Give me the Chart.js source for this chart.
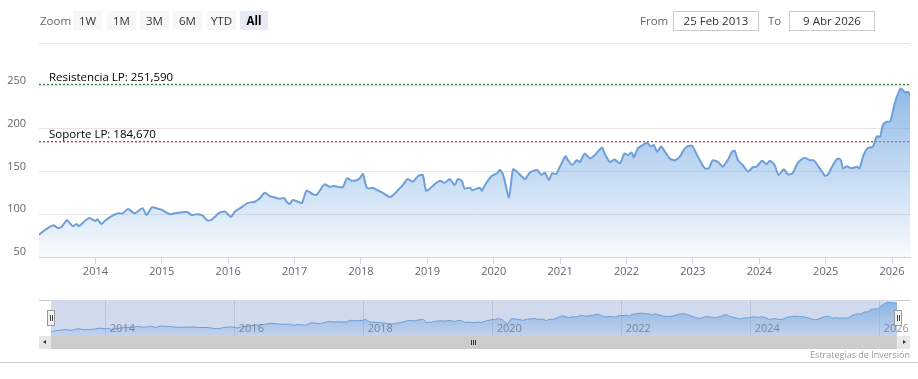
<!DOCTYPE html>
<html>
<head>
<meta charset="utf-8">
<script src="https://cdn.jsdelivr.net/npm/chart.js@4/dist/chart.umd.min.js"></script>
<style>
  html, body { margin:0; padding:0; background:#fff; }
  body { width:918px; height:379px; position:relative; overflow:hidden; font-family:"Open Sans", sans-serif; }
  canvas { position:absolute; left:0; }
  #main { top:0; }
  #nav { top:290px; }
  .txt { position:absolute; font-size:11.5px; color:#666; line-height:19px; top:11px; }
  .btn { position:absolute; top:11px; height:19px; width:29px; background:#f7f7f7; color:#333;
         font-size:11.5px; line-height:19px; text-align:center; }
  .btn.on { background:#e6ebf5; color:#000; font-weight:bold; }
  .box { position:absolute; top:11px; height:18px; border:1px solid #ccc; color:#333;
         font-size:11.5px; line-height:18px; text-align:center; }
  .hl { position:absolute; height:1px; background:#ccc; }
  .handle { position:absolute; width:6px; height:14px; top:310px; background:#f2f2f2; border:1px solid #999; }
  .handle i { position:absolute; top:4px; width:1px; height:6px; background:#444; }
  #sb { position:absolute; left:39px; top:336px; width:871px; height:13px; background:#f2f2f2; }
  #sb .thumb { position:absolute; left:12px; right:13px; top:0; height:13px; background:#ccc; }
  #sb .b { position:absolute; top:0; width:12px; height:13px; background:#e6e6e6; }
  .grip { position:absolute; top:4px; width:1px; height:5px; background:#333; }
  #credits { position:absolute; right:8px; top:348px; font-size:9px; color:#999; }
</style>
</head>
<body>
<canvas id="main" width="918" height="290"></canvas>
<canvas id="nav" width="918" height="50"></canvas>

<div class="txt" style="left:40px">Zoom</div>
<div class="btn" style="left:73px">1W</div>
<div class="btn" style="left:107px">1M</div>
<div class="btn" style="left:140px">3M</div>
<div class="btn" style="left:173px">6M</div>
<div class="btn" style="left:207px">YTD</div>
<div class="btn on" style="left:240px;width:28px">All</div>
<div class="txt" style="left:640px">From</div>
<div class="box" style="left:673px;width:84px">25 Feb 2013</div>
<div class="txt" style="left:768px">To</div>
<div class="box" style="left:789px;width:84px">9 Abr 2026</div>

<div class="hl" style="left:39px;width:12px;top:300px"></div>
<div class="hl" style="left:897px;width:13px;top:300px"></div>
<div class="handle" style="left:47px"><i style="left:2px"></i><i style="left:4px"></i></div>
<div class="handle" style="left:894px"><i style="left:2px"></i><i style="left:4px"></i></div>

<div id="sb">
  <div class="thumb"></div>
  <div class="b" style="left:0"><div style="position:absolute;left:4px;top:4px;width:0;height:0;border-top:2.5px solid transparent;border-bottom:2.5px solid transparent;border-right:3px solid #333"></div></div>
  <div class="b" style="right:0"><div style="position:absolute;left:5px;top:4px;width:0;height:0;border-top:2.5px solid transparent;border-bottom:2.5px solid transparent;border-left:3px solid #333"></div></div>
  <div class="grip" style="left:432px"></div><div class="grip" style="left:434px"></div><div class="grip" style="left:436px"></div>
</div>
<div id="credits">Estrategias de Inversión</div>
<div class="hl" style="left:0;width:918px;top:362px"></div>

<script>
// fechas en años decimales, cierres
const years = [
  2013.15,2013.24,2013.31,2013.37,2013.43,2013.49,2013.57,2013.66,2013.72,2013.75,2013.84,2013.91,
  2014.00,2014.03,2014.09,2014.14,2014.25,2014.34,2014.41,2014.49,2014.59,2014.71,2014.77,2014.85,2014.92,
  2015.00,2015.12,2015.19,2015.38,2015.45,2015.54,2015.62,2015.68,2015.74,2015.80,2015.86,2015.95,
  2016.04,2016.10,2016.20,2016.29,2016.40,2016.48,2016.55,2016.63,2016.73,2016.78,2016.84,2016.88,2016.93,2016.97,
  2017.05,2017.11,2017.18,2017.27,2017.33,2017.45,2017.53,2017.60,2017.68,2017.73,2017.79,2017.86,2017.94,2017.98,
  2018.03,2018.09,2018.18,2018.25,2018.33,2018.43,2018.48,2018.55,2018.63,2018.70,2018.78,2018.86,2018.93,2018.98,
  2019.04,2019.11,2019.19,2019.26,2019.34,2019.41,2019.46,2019.52,2019.56,2019.64,2019.68,2019.79,2019.82,2019.89,2019.97,
  2020.05,2020.09,2020.14,2020.23,2020.29,2020.36,2020.47,2020.54,2020.65,2020.72,2020.77,2020.83,2020.88,2020.94,
  2021.00,2021.08,2021.12,2021.18,2021.25,2021.30,2021.37,2021.45,2021.52,2021.63,2021.67,2021.75,2021.82,2021.90,2021.97,
  2022.02,2022.08,2022.11,2022.17,2022.25,2022.31,2022.37,2022.41,2022.46,2022.52,2022.58,2022.65,2022.73,2022.80,2022.86,2022.91,2022.99,
  2023.05,2023.13,2023.18,2023.24,2023.30,2023.38,2023.45,2023.53,2023.59,2023.63,2023.68,2023.75,2023.83,2023.90,2023.96,
  2024.04,2024.11,2024.16,2024.23,2024.29,2024.37,2024.43,2024.50,2024.58,2024.68,2024.76,2024.82,2024.91,2024.99,
  2025.03,2025.11,2025.18,2025.23,2025.26,2025.32,2025.39,2025.47,2025.51,2025.57,2025.63,2025.71,2025.77,2025.82,2025.86,2025.92,2025.97,
  2026.00,2026.04,2026.09,2026.13,2026.16,2026.21,2026.24,2026.27
];
const prices = [
  76,81.5,85,87,84,85,93,86,88.5,86,92,95.5,
  92,94,88.5,92,98,101,101,106,101,107,99,108,107,
  105,100,101,102.5,99,100,98,93,93,97,101.5,103,
  97,103,108,113,114.6,119,125,121,119,118,119,114.6,112,116.6,
  114.6,113,127.5,123.6,122.4,135,132,133,131.4,132,142,139,140,142,
  147,130.6,130.6,128,125,120,122,127.5,134,141,138,144.6,145.8,127.5,
  130,135,139,136.8,141,134,141,139,130,131,128,131,127.5,136.8,144.6,
  147.8,151.6,146.6,119.7,152.4,149,141,148.5,151.6,145.8,148.5,140,147.8,147,
  156,167.5,163,157.5,163,161,171,165,169,178,171,161,164,159.4,171,
  169,172,166.5,177,181,183.5,179,181,173,179,173,165,163,167,175,179,180,
  171,159.4,153.6,153.6,163,161,155.5,164,173,174,163,157.5,149.7,154.8,155.5,
  162.5,158.6,162.5,157.5,145.8,152.4,146.6,147.8,160,166,163,163,153.6,145,
  145.8,157.5,165,163,153.6,156,153.6,155.5,153.6,169,177,179,191,190.5,204,208,208,
  216,229.5,241,247,245,242,243,239
];
const yearTicks = [2014,2015,2016,2017,2018,2019,2020,2021,2022,2023,2024,2025,2026];
const navTicks = [2014,2016,2018,2020,2022,2024,2026];
const levelNames = ['Resistencia LP', 'Soporte LP'];
const levelValues = [251.59, 184.67];
const levelColors = ['#2e7d32', '#8b3a3a'];

const xMin = years[0], xMax = years[years.length - 1];
const series = years.map((x, i) => ({x, y: prices[i]}));
const font = {family: '"Open Sans", sans-serif', size: 11};

function areaFill(top, bottom){
  return (c) => {
    const a = c.chart.chartArea;
    if (!a) return null;
    const g = c.chart.ctx.createLinearGradient(0, a.top, 0, a.bottom);
    g.addColorStop(0, `rgba(110,165,225,${top})`);
    g.addColorStop(1, `rgba(110,165,225,${bottom})`);
    return g;
  };
}

// etiquetas de soporte / resistencia
const levelLabels = {
  id: 'levelLabels',
  afterDatasetsDraw(chart){
    const {ctx, scales: {x, y}} = chart;
    ctx.save();
    ctx.font = '11.5px "Open Sans", sans-serif';
    ctx.fillStyle = '#000';
    ctx.textBaseline = 'bottom';
    levelValues.forEach((v, i) => {
      const txt = levelNames[i] + ': ' + v.toFixed(3).replace('.', ',');
      ctx.fillText(txt, x.left + 10, y.getPixelForValue(v) - 1);
    });
    ctx.restore();
  }
};

new Chart(document.getElementById('main'), {
  type: 'line',
  data: {
    datasets: [
      {data: series, borderColor: '#6d9fd8', borderWidth: 2, fill: 'start',
       backgroundColor: areaFill(0.95, 0.05), pointRadius: 0, tension: 0.2},
      ...levelValues.map((v, i) => ({
        data: [{x: xMin, y: v}, {x: xMax, y: v}], borderColor: levelColors[i],
        borderWidth: 1.2, borderDash: [2, 2], pointRadius: 0, fill: false
      }))
    ]
  },
  options: {
    responsive: false, animation: false,
    layout: {padding: {top: 43, right: 8, left: 0, bottom: 0}},
    plugins: {legend: {display: false}, tooltip: {enabled: false}},
    scales: {
      x: {
        type: 'linear', min: xMin, max: xMax,
        afterBuildTicks: s => { s.ticks = yearTicks.map(v => ({value: v})); },
        afterFit: s => { s.height = 33; },
        grid: {drawOnChartArea: false, drawTicks: true, tickLength: 7, tickColor: '#ccd6eb'},
        border: {color: '#ccd6eb'},
        ticks: {color: '#666', font, padding: 1, maxRotation: 0, callback: v => String(v)}
      },
      y: {
        min: 50, max: 300,
        afterFit: s => { s.width = 39; },
        grid: {color: '#e6e6e6', drawTicks: false},
        border: {display: false},
        ticks: {stepSize: 50, color: '#666', font, padding: 13, labelOffset: -5,
                callback: v => v === 300 ? '' : String(v)}
      }
    }
  },
  plugins: [levelLabels]
});

// navegador: máscara y rótulos de años dentro del área
const navMask = {
  id: 'navMask',
  beforeDraw(chart){
    const a = chart.chartArea, ctx = chart.ctx;
    ctx.save();
    ctx.fillStyle = 'rgba(102,133,194,0.3)';
    ctx.fillRect(a.left, a.top, a.right - a.left, a.bottom - a.top);
    ctx.restore();
  },
  afterDatasetsDraw(chart){
    const {ctx, chartArea: a, scales: {x}} = chart;
    ctx.save();
    ctx.font = '11px "Open Sans", sans-serif';
    ctx.fillStyle = 'rgba(100,108,125,0.75)';
    ctx.textBaseline = 'middle';
    navTicks.forEach(v => ctx.fillText(String(v), x.getPixelForValue(v) + 4, a.bottom - 7.5));
    ctx.restore();
  }
};

new Chart(document.getElementById('nav'), {
  type: 'line',
  data: {
    datasets: [{data: series, borderColor: '#6a9ddb', borderWidth: 1, fill: 'start',
                backgroundColor: areaFill(0.75, 0.15), pointRadius: 0, tension: 0}]
  },
  options: {
    responsive: false, animation: false,
    layout: {padding: {top: 10, right: 21, left: 51, bottom: 4}},
    plugins: {legend: {display: false}, tooltip: {enabled: false}},
    scales: {
      x: {
        type: 'linear', min: xMin, max: xMax,
        afterBuildTicks: s => { s.ticks = navTicks.map(v => ({value: v})); },
        afterFit: s => { s.height = 0; },
        grid: {drawOnChartArea: true, drawTicks: false, color: 'rgba(60,70,100,0.15)'},
        border: {display: false},
        ticks: {display: false}
      },
      y: {display: false, min: 50, max: 260}
    }
  },
  plugins: [navMask]
});
</script>
</body>
</html>
